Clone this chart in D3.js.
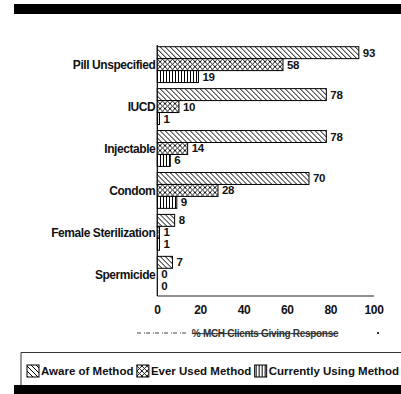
<!DOCTYPE html>
<html>
<head>
<meta charset="utf-8">
<script src="https://cdn.jsdelivr.net/npm/d3@7"></script>
<style>
  html, body { margin: 0; padding: 0; background: #fff; }
  svg { display: block; }
  text { font-family: "Liberation Sans", Arial, Helvetica, sans-serif; font-weight: bold; fill: #111; }
</style>
</head>
<body>
<svg id="chart" width="401" height="394"></svg>
<script>
// Family planning methods and the three response series (% of MCH clients)
const categories = ["Pill Unspecified", "IUCD", "Injectable", "Condom", "Female Sterilization", "Spermicide"];
const seriesNames = ["Aware of Method", "Ever Used Method", "Currently Using Method"];
const aware = [93, 78, 78, 70, 8, 7];
const everUsed = [58, 10, 14, 28, 1, 0];
const currentlyUsing = [19, 1, 6, 9, 1, 0];
const xTicks = [0, 20, 40, 60, 80, 100];
const axisTitle = "% MCH Clients Giving Response";

const seriesValues = [aware, everUsed, currentlyUsing];
const patternIds = ["pat-diag", "pat-cross", "pat-vert"];

const svg = d3.select("#chart");
const defs = svg.append("defs");

// Hatch fills: back-diagonal, cross-hatch, vertical lines
const diag = defs.append("pattern").attr("id", "pat-diag")
  .attr("patternUnits", "userSpaceOnUse").attr("width", 5).attr("height", 5);
diag.append("rect").attr("width", 5).attr("height", 5).attr("fill", "#fff");
diag.append("path").attr("d", "M0,0L5,5M-1,4L1,6M4,-1L6,1")
  .attr("stroke", "#000").attr("stroke-width", 1);

const cross = defs.append("pattern").attr("id", "pat-cross")
  .attr("patternUnits", "userSpaceOnUse").attr("width", 5).attr("height", 5);
cross.append("rect").attr("width", 5).attr("height", 5).attr("fill", "#fff");
cross.append("path").attr("d", "M0,0L5,5M-1,4L1,6M4,-1L6,1M0,5L5,0M-1,1L1,-1M4,6L6,4")
  .attr("stroke", "#000").attr("stroke-width", 0.9);

const vert = defs.append("pattern").attr("id", "pat-vert")
  .attr("patternUnits", "userSpaceOnUse").attr("width", 3).attr("height", 3);
vert.append("rect").attr("width", 3).attr("height", 3).attr("fill", "#fff");
vert.append("path").attr("d", "M1.5,0L1.5,3").attr("stroke", "#000").attr("stroke-width", 1);

// Header and footer rules
svg.append("rect").attr("x", 14).attr("y", 4).attr("width", 387).attr("height", 10).attr("fill", "#000");
svg.append("rect").attr("x", 14).attr("y", 385).attr("width", 387).attr("height", 9).attr("fill", "#000");

// Scales
const x = d3.scaleLinear().domain([0, 100]).range([157.3, 374]);
const y = d3.scaleBand().domain(categories).range([46.7, 292.2]).paddingInner(0.145).paddingOuter(0);
const ySub = d3.scaleBand().domain(d3.range(seriesNames.length)).range([0, y.bandwidth()]);

const plot = svg.append("g");

// Axis lines
plot.append("line").attr("x1", x(0)).attr("x2", x(0)).attr("y1", 45).attr("y2", 296)
  .attr("stroke", "#000").attr("stroke-width", 1.2);
plot.append("line").attr("x1", x(0)).attr("x2", x(100)).attr("y1", 296).attr("y2", 296)
  .attr("stroke", "#222").attr("stroke-width", 1.1);

// Bars, value labels and category labels
const groups = plot.selectAll("g.cat").data(categories).join("g")
  .attr("class", "cat")
  .attr("transform", d => `translate(0,${y(d)})`);

groups.each(function(cat, ci) {
  const g = d3.select(this);
  const rows = seriesValues.map((vals, si) => ({ si, v: vals[ci] }));
  g.selectAll("rect").data(rows).join("rect")
    .attr("x", x(0))
    .attr("y", d => ySub(d.si))
    .attr("width", d => x(d.v) - x(0))
    .attr("height", ySub.bandwidth())
    .attr("fill", d => `url(#${patternIds[d.si]})`)
    .attr("stroke", "#000").attr("stroke-width", 1);
  g.selectAll("text.val").data(rows).join("text")
    .attr("class", "val")
    .attr("x", d => x(d.v) + 4)
    .attr("y", d => ySub(d.si) + ySub.bandwidth() / 2)
    .attr("dy", "0.35em")
    .attr("font-size", 11.5)
    .attr("letter-spacing", -0.3)
    .text(d => d.v);
  g.append("text")
    .attr("x", x(0) - 2)
    .attr("y", ySub(1) + ySub.bandwidth() / 2)
    .attr("dy", "0.36em")
    .attr("text-anchor", "end")
    .attr("font-size", 12)
    .attr("letter-spacing", -0.43)
    .text(cat);
});

// Tick labels
plot.selectAll("text.tick").data(xTicks).join("text")
  .attr("class", "tick")
  .attr("x", d => x(d))
  .attr("y", 310)
  .attr("dy", "0.36em")
  .attr("text-anchor", "middle")
  .attr("font-size", 12)
  .attr("letter-spacing", -0.4)
  .text(d => d);

// Axis title
svg.append("line").attr("x1", 137).attr("x2", 188).attr("y1", 333).attr("y2", 333)
  .attr("stroke", "#444").attr("stroke-width", 1.2).attr("stroke-dasharray", "4,3,1,1");
svg.append("text")
  .attr("x", 265).attr("y", 333).attr("dy", "0.36em")
  .attr("text-anchor", "middle")
  .attr("font-size", 10)
  .attr("letter-spacing", -0.3)
  .style("fill", "#333")
  .style("text-decoration", "line-through")
  .text(axisTitle);
svg.append("rect").attr("x", 377).attr("y", 332).attr("width", 2).attr("height", 2).attr("fill", "#333");

// Legend: swatches packed between the left frame and the right edge
const legend = svg.append("g");
legend.append("path").attr("d", "M21,385V352.5H401").attr("fill", "none")
  .attr("stroke", "#333").attr("stroke-width", 1);
const items = legend.selectAll("g.item").data(seriesNames).join("g").attr("class", "item");
items.append("rect").attr("y", -6).attr("width", 12).attr("height", 12)
  .attr("fill", (d, i) => `url(#${patternIds[i]})`)
  .attr("stroke", "#000").attr("stroke-width", 1);
items.append("text").attr("x", 14).attr("dy", "0.36em")
  .attr("font-size", 11.5)
  .text(d => d);
const widths = [];
items.select("text").each(function() { widths.push(this.getComputedTextLength()); });
const legStart = 27, legEnd = 399;
const used = d3.sum(widths, w => w + 14);
const gap = (legEnd - legStart - used) / (seriesNames.length - 1);
let cx = legStart;
items.attr("transform", (d, i) => {
  const t = `translate(${cx},371)`;
  cx += widths[i] + 14 + gap;
  return t;
});
</script>
</body>
</html>
